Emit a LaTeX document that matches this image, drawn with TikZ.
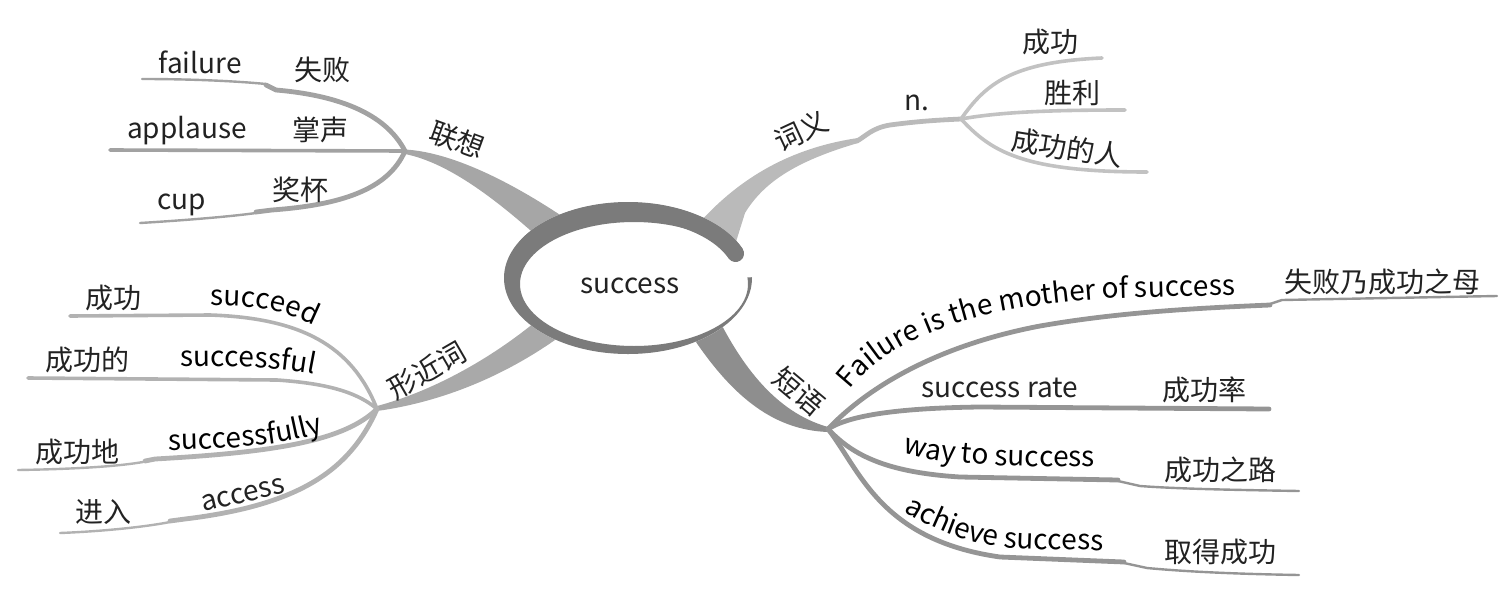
\documentclass[tikz,border=0pt]{standalone}
\usepackage{fontspec}
\setmainfont{Noto Sans CJK SC}
\usetikzlibrary{decorations.text}
\newcommand\lblfont{\fontsize{28}{30}\selectfont}
\definecolor{txt}{HTML}{222222}
\definecolor{gA}{HTML}{A6A6A6}
\definecolor{lA}{HTML}{A2A2A2}
\definecolor{gB}{HTML}{BABABA}
\definecolor{lB}{HTML}{C2C2C2}
\definecolor{gC}{HTML}{8E8E8E}
\definecolor{lC}{HTML}{959595}
\definecolor{gD}{HTML}{A9A9A9}
\definecolor{lD}{HTML}{B2B2B2}
\definecolor{ringc}{HTML}{7B7B7B}
\begin{document}
\begin{tikzpicture}[x=1pt,y=-1pt,
  lbl/.style={font=\lblfont,text=txt,inner sep=0pt},
  thin/.style={line width=2.4pt,line cap=round},
  mid/.style={line width=3.6pt,line cap=round},
  thick/.style={line width=4.8pt,line cap=round},
  curvetext/.style={decorate,decoration={text along path,text align=left,text={|\lblfont|#1}}}
]
\useasboundingbox (0,0) rectangle (1510,600);
% hubs
\coordinate (hA) at (405,151);
\coordinate (hB) at (961,119);
\coordinate (hC) at (828,429);
\coordinate (hD) at (377,409);
\coordinate (nB) at (857,141);

% ---------- trunks ----------
\fill[gA] (hA) ++(0,-1.5) .. controls (450,152) and (510,180) .. (575,225) -- (550,248) .. controls (500,202) and (450,163) .. (405,154) -- cycle;
\fill[gB] (700,222) .. controls (740,178) and (790,148) .. (858,138) -- (858,143) .. controls (800,160) and (765,180) .. (745,213) -- (735,245) -- cycle;
\fill[gC] (718,318) .. controls (742,365) and (775,412) .. (828,427) -- (828,432) .. controls (770,430) and (728,392) .. (688,330) -- cycle;
\fill[gD] (377,406) .. controls (430,392) and (490,360) .. (540,318) -- (562,335) .. controls (500,380) and (435,403) .. (377,411) -- cycle;

% ---------- 联想 lines ----------
\draw[lA,thin] (142,79) .. controls (190,79) and (235,81) .. (266,84);
\draw[lA,thick] (266,85) -- (276,90) .. controls (335,95) and (385,112) .. (hA);
\draw[lA,mid] (110,150) -- (hA);
\draw[lA,thin] (140,223) .. controls (190,220) and (235,216) .. (256,213);
\draw[lA,thick] (256,212) -- (272,210) .. controls (340,205) and (388,190) .. (hA);

% ---------- 词义 lines ----------
\draw[gB,thick] (nB) .. controls (866,136) and (872,128) .. (890,125) .. controls (920,121) and (940,120) .. (hB);
\draw[lB,mid] (hB) .. controls (985,85) and (1010,62) .. (1102,58);
\draw[lB,mid] (hB) .. controls (1000,112) and (1050,110) .. (1125,110);
\draw[lB,mid] (hB) .. controls (990,150) and (1020,172) .. (1147,172);

% ---------- 短语 lines ----------
\draw[lC,thick] (hC) .. controls (870,385) and (940,345) .. (1040,326) .. controls (1120,312) and (1200,308) .. (1270,305);
\draw[lC,thin] (1270,304) -- (1282,300) -- (1497,296);
\draw[lC,thick] (hC) .. controls (850,415) and (900,408) .. (980,407) -- (1269,409);
\draw[lC,thick] (hC) .. controls (850,452) and (880,472) .. (960,477) -- (1118,480);
\draw[lC,thin] (1118,481) -- (1140,486) .. controls (1180,489) and (1240,490) .. (1299,491);
\draw[lC,thick] (hC) .. controls (860,470) and (880,540) .. (1000,557) -- (1124,562);
\draw[lC,thin] (1124,563) -- (1147,568) .. controls (1190,572) and (1240,574) .. (1299,575);

% ---------- 形近词 lines ----------
\draw[lD,mid] (70,316) -- (210,315) .. controls (300,318) and (352,345) .. (hD);
\draw[lD,mid] (28,378) -- (277,380) .. controls (320,383) and (355,390) .. (hD);
\draw[lD,thin] (18,470) .. controls (80,469) and (120,466) .. (143,462);
\draw[lD,thick] (145,461) -- (155,459) .. controls (280,452) and (345,440) .. (hD);
\draw[lD,thin] (60,533) .. controls (110,531) and (150,526) .. (170,522);
\draw[lD,thick] (170,521) -- (185,519) .. controls (300,505) and (350,470) .. (hD);

% ---------- central ellipse ----------
\fill[white] (628,278) ellipse [x radius=124, y radius=76];
\fill[ringc, even odd rule] (628,278) ellipse [x radius=124, y radius=76] (634,284) ellipse [x radius=114, y radius=62];
\fill[white] (634,284) -- (772,276) -- (772,240) -- cycle;
\draw[ringc, line width=17pt, line cap=round] (628,279) ++(-150:116 and 68) arc [start angle=-150, end angle=-22, x radius=116, y radius=68];
\node[lbl] (center) at (630,286) {success};

% ---------- 联想 texts ----------
\node[lbl,rotate=-20] (lx) at (457,140) {联想};
\node[lbl] (a1) at (200,62) {failure};
\node[lbl] (a1c) at (322,70) {失败};
\node[lbl] (a2) at (187,131) {applause};
\node[lbl] (a2c) at (320,130) {掌声};
\node[lbl] (a3) at (182,205) {cup};
\node[lbl] (a3c) at (300,190) {奖杯};

% ---------- 词义 texts ----------
\node[lbl,rotate=25] (cy) at (801,131) {词义};
\node[lbl] (n) at (917,103) {n.};
\node[lbl] (b1) at (1050,42) {成功};
\node[lbl] (b2) at (1072,93) {胜利};
\node[lbl,rotate=-9] (b3) at (1067,148) {成功的人};

% ---------- 短语 texts ----------
\node[lbl,rotate=-40] (dy) at (799,391) {短语};
\path[curvetext={Failure is the mother of success}] (850,390) .. controls (890,338) and (975,305) .. (1120,298) -- (1270,294);
\node[lbl] (c1c) at (1382,282) {失败乃成功之母};
\node[lbl] (c2) at (1000,388) {success rate};
\node[lbl] (c2c) at (1204,390) {成功率};
\path[curvetext={way to success}] (903,452) .. controls (930,461) and (960,467) .. (1110,467);
\node[lbl] (c3c) at (1220,470) {成功之路};
\path[curvetext={achieve success}] (904,511) .. controls (940,534) and (980,548) .. (1030,549) -- (1130,551);
\node[lbl] (c4c) at (1220,552) {取得成功};

% ---------- 形近词 texts ----------
\node[lbl,rotate=30] (xj) at (427,370) {形近词};
\node[lbl] (d1c) at (113,298) {成功};
\path[curvetext={succeed}] (210,306) .. controls (250,305) and (292,310) .. (325,332);
\node[lbl] (d2c) at (87,360) {成功的};
\path[curvetext={successful}] (180,367) .. controls (240,366) and (285,367) .. (325,377);
\node[lbl] (d3c) at (77,452) {成功地};
\path[curvetext={successfully}] (168,450) .. controls (230,449) and (290,446) .. (335,428);
\node[lbl] (d4c) at (103,512) {进入};
\node[lbl,rotate=13] (d4) at (243,495) {access};
\end{tikzpicture}
\end{document}
